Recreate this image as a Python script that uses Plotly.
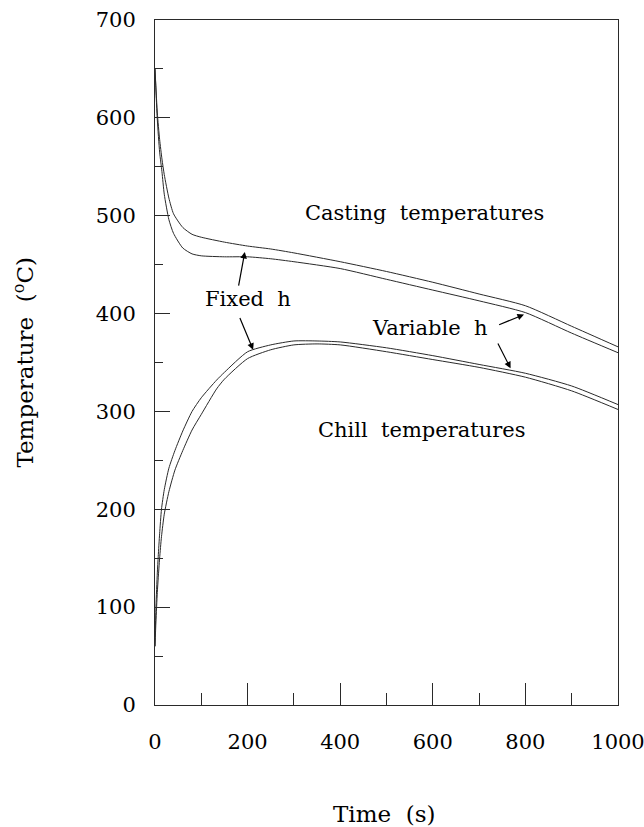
import plotly.graph_objects as go

# ---- data ----
t_cast = [0, 5, 10, 15, 20, 30, 40, 60, 80, 100, 150, 200, 250, 300, 400, 500, 600, 700, 800, 900, 1000]
cast_upper = [650, 605, 578, 558, 542, 518, 502, 488, 481, 478, 473, 469, 466, 462, 453, 443, 432, 420, 408, 387, 366]
cast_lower = [650, 598, 565, 545, 522, 496, 482, 467, 461, 459, 458, 458, 456, 453, 446, 435, 424, 413, 401, 380, 360]

t_chill = [0, 2, 5, 7, 10, 14, 20, 30, 43, 60, 80, 100, 133, 150, 200, 250, 300, 350, 400, 500, 600, 700, 800, 900, 1000]
chill_upper = [60, 100, 135, 152, 175, 200, 220, 242, 260, 280, 300, 314, 332, 340, 361, 368, 372, 372, 371, 365, 357, 348, 339, 326, 307]
chill_lower = [60, 85, 115, 130, 150, 172, 195, 218, 240, 260, 281, 297, 323, 333, 354, 363, 368, 369, 368, 361, 353, 345, 335, 321, 302]

x_ticks = [0, 200, 400, 600, 800, 1000]
y_ticks = [0, 100, 200, 300, 400, 500, 600, 700]

FONT = "DejaVu Serif"
LINE = "#2a2a2a"
NB = "\u00a0"

fig = go.Figure()
for xs, ys in [(t_cast, cast_upper), (t_cast, cast_lower), (t_chill, chill_upper), (t_chill, chill_lower)]:
    fig.add_trace(go.Scatter(x=xs, y=ys, mode="lines",
                             line=dict(color=LINE, width=1, shape="spline", smoothing=0.6),
                             showlegend=False, hoverinfo="skip"))

labels = [
    ("Casting" + NB * 2 + "temperatures", 581, 503),
    ("Chill" + NB * 2 + "temperatures", 576, 281),
    ("Fixed" + NB * 2 + "h", 200, 415),
    ("Variable" + NB * 2 + "h", 594, 385),
]
for txt, x, y in labels:
    fig.add_annotation(x=x, y=y, xref="x", yref="y", text=txt, showarrow=False,
                       xanchor="center", yanchor="middle",
                       font=dict(family=FONT, size=21, color="black"))

# arrows: (tip_x, tip_y, tail_x, tail_y)
arrows = [
    (194, 463, 180, 427),
    (212, 363, 182, 397),
    (797, 399, 740, 388),
    (768, 344, 739, 371),
]
for tx, ty, sx, sy in arrows:
    fig.add_annotation(x=tx, y=ty, ax=sx, ay=sy, xref="x", yref="y", axref="x", ayref="y",
                       text="", showarrow=True, arrowhead=2, arrowsize=1.1, arrowwidth=1.2,
                       arrowcolor="black", standoff=0, startstandoff=0)

# axis titles
fig.add_annotation(x=-0.285, y=0.5, xref="paper", yref="paper", text="Temperature" + NB * 2 + "(<sup>o</sup>C)",
                   textangle=-90, showarrow=False, xanchor="center", yanchor="middle",
                   font=dict(family=FONT, size=23, color="black"))
fig.add_annotation(x=0.495, y=-0.159, xref="paper", yref="paper", text="Time" + NB * 2 + "(s)",
                   showarrow=False, xanchor="center", yanchor="middle",
                   font=dict(family=FONT, size=23, color="black"))

fig.update_xaxes(range=[0, 1000], tickvals=x_ticks, ticks="inside", ticklen=22, tickwidth=1, tickcolor=LINE,
                 minor=dict(dtick=100, tick0=0, ticks="inside", ticklen=12, tickwidth=1, tickcolor=LINE),
                 showline=True, linecolor=LINE, linewidth=1, mirror=True, showgrid=False, zeroline=False,
                 tickfont=dict(family=FONT, size=21, color="black"), ticklabelstandoff=18,
                 ticklabeloverflow="allow", automargin=False)
fig.update_yaxes(range=[0, 700], tickvals=y_ticks, ticks="inside", ticklen=15, tickwidth=1, tickcolor=LINE,
                 minor=dict(dtick=50, tick0=0, ticks="inside", ticklen=8, tickwidth=1, tickcolor=LINE),
                 showline=True, linecolor=LINE, linewidth=1, mirror=True, showgrid=False, zeroline=False,
                 tickfont=dict(family=FONT, size=21, color="black"), ticklabelstandoff=14,
                 ticklabeloverflow="allow", automargin=False)

fig.update_layout(width=644, height=827, margin=dict(l=155, r=26, t=20, b=122),
                  paper_bgcolor="white", plot_bgcolor="white", showlegend=False)

fig.write_html("out.html")
